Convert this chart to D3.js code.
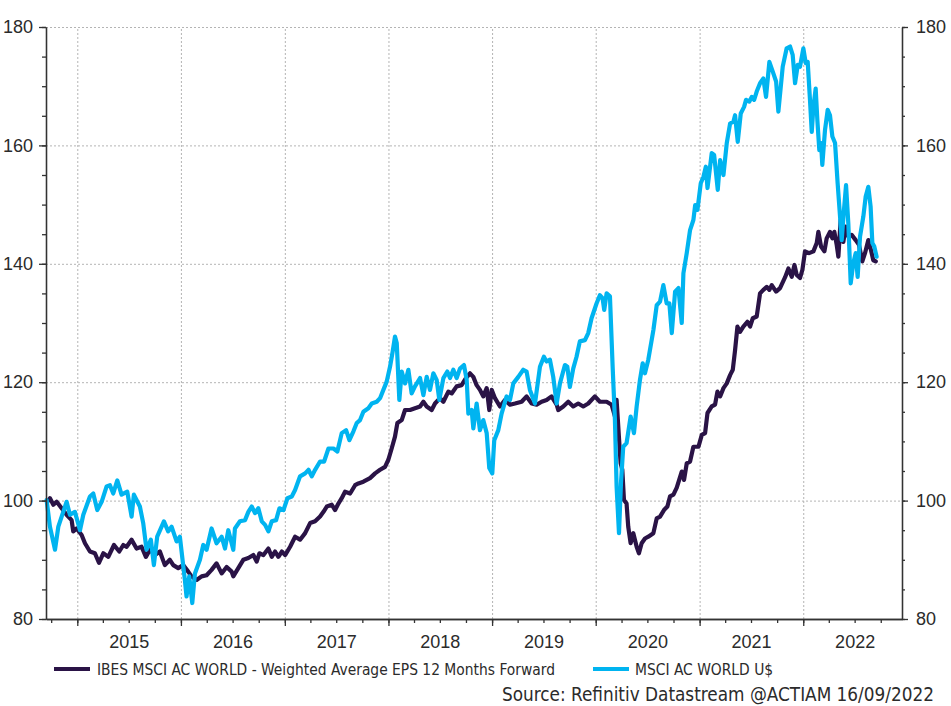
<!DOCTYPE html>
<html>
<head>
<meta charset="utf-8">
<script src="https://cdn.jsdelivr.net/npm/d3@7"></script>
<style>
    html, body { margin: 0; padding: 0; background: #fff; }
    svg { display: block; font-family: "DejaVu Sans Condensed", "DejaVu Sans", sans-serif; font-stretch: condensed; }
    .grid line { stroke: #b4b4b4; stroke-width: 1; stroke-dasharray: 2,2; }
    .grid .domain { display: none; }
    .axis .domain, .axis line { stroke: #333; stroke-width: 1.3; }
    .axis text, .labels text { fill: #2b2b2b; font-size: 18px; }
    .labels .domain, .labels line { display: none; }
</style>
</head>
<body>
<div id="chart"></div>
<script>
// series: [decimal year, value]
const EPS_SERIES = [
    [2014.720, 100.0], [2014.736, 100.4], [2014.769, 99.3], [2014.801, 99.8], [2014.849, 98.7],
    [2014.897, 97.6], [2014.945, 96.7], [2014.961, 94.8], [2014.994, 95.3], [2015.042, 94.2],
    [2015.074, 92.8], [2015.122, 91.4], [2015.170, 91.1], [2015.209, 89.5], [2015.251, 91.1],
    [2015.299, 90.5], [2015.354, 92.5], [2015.405, 91.4], [2015.444, 92.5], [2015.476, 92.2],
    [2015.524, 93.4], [2015.572, 91.9], [2015.620, 92.2], [2015.662, 90.5], [2015.701, 91.7],
    [2015.749, 90.8], [2015.797, 91.4], [2015.845, 89.1], [2015.893, 90.0], [2015.926, 89.1],
    [2015.974, 88.6], [2016.022, 89.1], [2016.070, 88.0], [2016.102, 87.2], [2016.151, 86.6],
    [2016.199, 87.2], [2016.247, 87.4], [2016.295, 88.3], [2016.343, 89.4], [2016.392, 87.7],
    [2016.440, 88.8], [2016.488, 88.0], [2016.504, 87.2], [2016.552, 88.6], [2016.600, 90.0],
    [2016.649, 90.3], [2016.697, 90.8], [2016.729, 89.7], [2016.755, 91.1], [2016.794, 90.8],
    [2016.842, 91.9], [2016.874, 90.5], [2016.906, 91.4], [2016.938, 90.5], [2016.971, 91.4],
    [2017.003, 90.8], [2017.051, 92.2], [2017.099, 93.9], [2017.147, 93.4], [2017.196, 94.5],
    [2017.244, 96.2], [2017.292, 96.5], [2017.340, 97.3], [2017.373, 98.1], [2017.405, 99.0],
    [2017.453, 99.3], [2017.485, 98.4], [2017.517, 99.5], [2017.549, 100.4], [2017.581, 101.5],
    [2017.630, 101.2], [2017.678, 102.6], [2017.710, 102.9], [2017.758, 103.2], [2017.822, 103.8],
    [2017.871, 104.6], [2017.919, 105.2], [2017.967, 105.7], [2017.999, 106.9], [2018.031, 108.8],
    [2018.063, 110.8], [2018.086, 113.1], [2018.128, 113.6], [2018.160, 115.3], [2018.208, 115.3],
    [2018.256, 115.6], [2018.305, 115.9], [2018.337, 116.7], [2018.369, 115.9], [2018.417, 115.3],
    [2018.449, 116.4], [2018.497, 117.3], [2018.530, 116.7], [2018.578, 118.4], [2018.610, 118.1],
    [2018.658, 119.3], [2018.706, 119.5], [2018.748, 120.7], [2018.787, 121.5], [2018.819, 120.9],
    [2018.851, 119.5], [2018.883, 118.7], [2018.915, 117.6], [2018.948, 119.0], [2018.973, 115.3],
    [2018.996, 118.7], [2019.028, 117.3], [2019.076, 115.9], [2019.124, 117.0], [2019.173, 116.2],
    [2019.221, 116.4], [2019.285, 116.7], [2019.333, 117.6], [2019.382, 116.4], [2019.430, 116.2],
    [2019.478, 116.7], [2019.526, 117.0], [2019.574, 117.6], [2019.623, 116.2], [2019.639, 115.3],
    [2019.687, 115.9], [2019.735, 116.7], [2019.783, 115.9], [2019.831, 116.4], [2019.880, 115.9],
    [2019.928, 116.4], [2019.992, 117.6], [2020.040, 116.7], [2020.105, 116.7], [2020.153, 116.2],
    [2020.185, 114.2], [2020.201, 117.0], [2020.227, 109.7], [2020.240, 106.3], [2020.256, 105.2],
    [2020.272, 100.1], [2020.297, 99.5], [2020.313, 95.6], [2020.336, 92.8], [2020.362, 94.5],
    [2020.394, 92.2], [2020.416, 91.1], [2020.442, 92.8], [2020.474, 93.6], [2020.506, 93.9],
    [2020.555, 94.5], [2020.587, 97.0], [2020.619, 97.3], [2020.657, 98.4], [2020.690, 99.0],
    [2020.715, 100.7], [2020.748, 101.0], [2020.780, 102.2], [2020.828, 104.9], [2020.850, 103.5],
    [2020.876, 106.3], [2020.908, 106.6], [2020.940, 109.1], [2020.989, 109.1], [2021.021, 111.1],
    [2021.053, 111.4], [2021.076, 114.8], [2021.117, 115.9], [2021.149, 116.2], [2021.172, 118.4],
    [2021.198, 117.6], [2021.230, 119.0], [2021.262, 119.8], [2021.294, 121.2], [2021.320, 122.1],
    [2021.342, 125.4], [2021.365, 129.4], [2021.390, 128.5], [2021.422, 129.4], [2021.461, 130.2],
    [2021.487, 129.4], [2021.513, 130.8], [2021.551, 131.1], [2021.583, 135.0], [2021.615, 135.6],
    [2021.648, 136.1], [2021.673, 135.6], [2021.696, 136.4], [2021.738, 135.3], [2021.776, 135.9],
    [2021.824, 137.7], [2021.857, 139.2], [2021.889, 137.8], [2021.915, 139.8], [2021.937, 138.1],
    [2021.969, 137.6], [2021.992, 139.0], [2022.017, 142.1], [2022.056, 141.8], [2022.098, 142.1],
    [2022.130, 143.5], [2022.146, 145.4], [2022.172, 142.9], [2022.204, 142.1], [2022.226, 144.3],
    [2022.258, 145.4], [2022.281, 144.3], [2022.300, 145.4], [2022.323, 143.2], [2022.339, 141.2],
    [2022.361, 147.4], [2022.387, 143.7], [2022.409, 146.3], [2022.435, 144.6], [2022.467, 144.9],
    [2022.506, 144.0], [2022.538, 143.2], [2022.570, 140.4], [2022.596, 141.8], [2022.628, 144.0],
    [2022.654, 142.3], [2022.676, 140.6], [2022.700, 140.4]
];

const MSCI_SERIES = [
    [2014.704, 100.1], [2014.736, 95.6], [2014.785, 91.7], [2014.817, 95.6], [2014.849, 97.3],
    [2014.897, 99.8], [2014.929, 97.6], [2014.977, 98.1], [2015.026, 95.0], [2015.058, 97.6],
    [2015.122, 100.7], [2015.154, 101.2], [2015.193, 98.4], [2015.235, 99.8], [2015.283, 102.4],
    [2015.315, 102.6], [2015.347, 101.2], [2015.386, 103.4], [2015.427, 101.0], [2015.482, 101.5],
    [2015.524, 97.3], [2015.546, 101.0], [2015.604, 99.0], [2015.636, 96.2], [2015.668, 91.7],
    [2015.710, 93.4], [2015.739, 89.1], [2015.771, 93.9], [2015.836, 96.5], [2015.877, 94.8],
    [2015.910, 95.6], [2015.958, 93.1], [2015.990, 93.9], [2016.038, 86.6], [2016.054, 83.8],
    [2016.080, 87.2], [2016.109, 82.7], [2016.135, 87.7], [2016.183, 90.0], [2016.215, 92.5],
    [2016.247, 91.7], [2016.295, 95.3], [2016.343, 92.8], [2016.392, 93.9], [2016.424, 91.9],
    [2016.456, 95.0], [2016.504, 91.7], [2016.520, 95.3], [2016.568, 96.5], [2016.617, 96.7],
    [2016.649, 98.1], [2016.681, 99.0], [2016.713, 97.9], [2016.745, 98.7], [2016.778, 96.5],
    [2016.810, 95.9], [2016.842, 94.8], [2016.874, 96.5], [2016.916, 96.7], [2016.948, 98.7],
    [2016.987, 98.4], [2017.025, 100.4], [2017.067, 100.7], [2017.099, 101.8], [2017.147, 104.1],
    [2017.196, 104.6], [2017.228, 105.2], [2017.260, 104.1], [2017.292, 105.2], [2017.340, 106.6],
    [2017.379, 106.6], [2017.421, 108.8], [2017.469, 108.8], [2017.507, 108.3], [2017.549, 111.4],
    [2017.591, 111.9], [2017.623, 110.2], [2017.662, 111.7], [2017.694, 113.1], [2017.726, 113.6],
    [2017.758, 115.0], [2017.806, 115.6], [2017.839, 116.4], [2017.887, 116.7], [2017.919, 117.3],
    [2017.951, 118.7], [2017.983, 120.1], [2018.015, 122.6], [2018.041, 125.2], [2018.063, 127.7],
    [2018.080, 126.6], [2018.105, 117.0], [2018.128, 121.8], [2018.160, 119.8], [2018.192, 122.1],
    [2018.224, 118.1], [2018.256, 119.3], [2018.305, 120.7], [2018.337, 117.8], [2018.369, 120.9],
    [2018.401, 118.7], [2018.433, 121.5], [2018.465, 120.4], [2018.491, 117.0], [2018.530, 120.7],
    [2018.568, 121.8], [2018.594, 120.7], [2018.626, 122.1], [2018.658, 120.7], [2018.690, 122.3],
    [2018.729, 122.9], [2018.755, 120.4], [2018.771, 114.7], [2018.803, 115.3], [2018.819, 112.2],
    [2018.851, 116.4], [2018.883, 111.9], [2018.915, 113.6], [2018.948, 111.4], [2018.973, 105.5],
    [2019.002, 104.6], [2019.021, 110.2], [2019.060, 111.9], [2019.092, 114.7], [2019.140, 117.6],
    [2019.173, 117.0], [2019.205, 119.8], [2019.253, 120.9], [2019.301, 122.1], [2019.333, 121.8],
    [2019.365, 118.7], [2019.414, 116.4], [2019.462, 122.6], [2019.500, 124.3], [2019.526, 123.5],
    [2019.558, 123.8], [2019.590, 120.9], [2019.623, 116.4], [2019.655, 119.8], [2019.703, 122.9],
    [2019.726, 122.6], [2019.751, 119.2], [2019.783, 122.3], [2019.815, 124.3], [2019.847, 126.9],
    [2019.896, 127.1], [2019.928, 128.3], [2019.960, 130.8], [2020.008, 133.3], [2020.040, 134.7],
    [2020.066, 134.2], [2020.082, 132.2], [2020.105, 135.0], [2020.137, 134.5], [2020.163, 122.6],
    [2020.185, 113.6], [2020.201, 102.4], [2020.224, 94.5], [2020.243, 102.9], [2020.265, 109.1],
    [2020.297, 109.7], [2020.336, 114.2], [2020.368, 111.4], [2020.394, 115.9], [2020.426, 120.4],
    [2020.452, 123.2], [2020.474, 121.5], [2020.506, 123.8], [2020.555, 128.8], [2020.587, 133.0],
    [2020.619, 133.6], [2020.651, 136.4], [2020.683, 133.3], [2020.709, 133.3], [2020.732, 128.3],
    [2020.764, 135.3], [2020.796, 135.9], [2020.828, 130.0], [2020.844, 138.4], [2020.876, 141.8],
    [2020.908, 145.7], [2020.940, 147.4], [2020.957, 149.9], [2020.979, 149.1], [2021.011, 153.6],
    [2021.037, 154.7], [2021.060, 156.4], [2021.076, 152.8], [2021.117, 158.7], [2021.140, 158.4],
    [2021.175, 152.5], [2021.198, 157.5], [2021.230, 155.0], [2021.262, 160.4], [2021.294, 163.7],
    [2021.326, 164.0], [2021.342, 165.1], [2021.368, 160.6], [2021.397, 165.4], [2021.429, 166.5],
    [2021.448, 167.7], [2021.480, 167.4], [2021.503, 168.2], [2021.526, 167.7], [2021.551, 169.1],
    [2021.583, 170.5], [2021.615, 171.3], [2021.641, 168.2], [2021.673, 174.1], [2021.705, 172.5],
    [2021.738, 170.8], [2021.760, 165.7], [2021.802, 173.3], [2021.840, 176.4], [2021.873, 176.7],
    [2021.898, 175.3], [2021.921, 170.5], [2021.947, 173.6], [2021.969, 173.3], [2022.001, 176.4],
    [2022.024, 173.9], [2022.043, 174.1], [2022.065, 167.7], [2022.082, 162.3], [2022.098, 166.5],
    [2022.120, 169.6], [2022.136, 164.3], [2022.155, 159.2], [2022.172, 160.4], [2022.184, 156.7],
    [2022.210, 162.6], [2022.236, 166.0], [2022.258, 165.1], [2022.281, 161.5], [2022.307, 160.4],
    [2022.332, 153.6], [2022.355, 148.0], [2022.371, 144.0], [2022.393, 149.1], [2022.413, 153.3],
    [2022.435, 146.8], [2022.458, 136.7], [2022.483, 140.1], [2022.506, 141.8], [2022.525, 137.8],
    [2022.548, 144.6], [2022.580, 148.0], [2022.602, 151.3], [2022.628, 153.0], [2022.650, 149.7],
    [2022.667, 143.5], [2022.686, 142.9], [2022.708, 141.2]
];

const YEARS = [2015, 2016, 2017, 2018, 2019, 2020, 2021, 2022];
const Y_TICKS = [80, 100, 120, 140, 160, 180];
const X_START = 2014.698;
const X_END = 2022.953;

const SERIES = [
    { name: "IBES MSCI AC WORLD - Weighted Average EPS 12 Months Forward", data: EPS_SERIES, color: "#2a1346" },
    { name: "MSCI AC WORLD U$", data: MSCI_SERIES, color: "#00b4f0" }
];
const SOURCE_TEXT = "Source: Refinitiv Datastream @ACTIAM 16/09/2022";

// decimal year -> Date
function toDate(t) {
    const year = Math.floor(t);
    const start = new Date(year, 0, 1);
    const end = new Date(year + 1, 0, 1);
    return new Date(+start + (t - year) * (end - start));
}

const totalWidth = 951, totalHeight = 706;
const margin = { top: 27, right: 49, bottom: 87, left: 46 };
const width = totalWidth - margin.left - margin.right;
const height = totalHeight - margin.top - margin.bottom;

const svgRoot = d3.select("#chart").append("svg")
    .attr("width", totalWidth)
    .attr("height", totalHeight);

const svg = svgRoot.append("g")
    .attr("transform", `translate(${margin.left},${margin.top})`);

const x = d3.scaleTime().domain([toDate(X_START), toDate(X_END)]).range([0, width]);
const y = d3.scaleLinear().domain([80, 180]).range([height, 0]);

const yearStarts = YEARS.map(yr => new Date(yr, 0, 1));
const midYears = YEARS.map(yr => new Date(yr, 6, 1));
const quarters = d3.timeMonth.every(3).range(toDate(X_START), toDate(X_END));
const minorY = d3.range(80, 181, 5);

// gridlines
svg.append("g").attr("class", "grid")
    .call(d3.axisLeft(y).tickValues(Y_TICKS.filter(v => v > 80)).tickSize(-width).tickFormat(""));
svg.append("g").attr("class", "grid")
    .attr("transform", `translate(0,${height})`)
    .call(d3.axisBottom(x).tickValues(yearStarts).tickSize(-height).tickFormat(""));

// lines
const line = d3.line()
    .x(d => x(toDate(d[0])))
    .y(d => y(d[1]));

SERIES.forEach(s => {
    svg.append("path")
        .datum(s.data)
        .attr("fill", "none")
        .attr("stroke", s.color)
        .attr("stroke-width", 4.2)
        .attr("stroke-linejoin", "round")
        .attr("stroke-linecap", "round")
        .attr("d", line);
});

// axes: minor ticks, major ticks, labels
svg.append("g").attr("class", "axis")
    .attr("transform", `translate(0,${height})`)
    .call(d3.axisBottom(x).tickValues(quarters).tickSize(4).tickSizeOuter(0).tickFormat(""));
svg.append("g").attr("class", "axis")
    .attr("transform", `translate(0,${height})`)
    .call(d3.axisBottom(x).tickValues(yearStarts).tickSize(7).tickSizeOuter(0).tickFormat(""));
svg.append("g").attr("class", "labels")
    .attr("transform", `translate(0,${height})`)
    .call(d3.axisBottom(x).tickValues(midYears).tickSize(0).tickPadding(16).tickFormat(d3.timeFormat("%Y")));

svg.append("g").attr("class", "axis")
    .call(d3.axisLeft(y).tickValues(minorY).tickSize(4).tickSizeOuter(0).tickFormat(""));
svg.append("g").attr("class", "axis")
    .call(d3.axisLeft(y).tickValues(Y_TICKS).tickSize(7).tickSizeOuter(0).tickFormat(""));
svg.append("g").attr("class", "labels")
    .call(d3.axisLeft(y).tickValues(Y_TICKS).tickSize(0).tickPadding(13));

svg.append("g").attr("class", "axis")
    .attr("transform", `translate(${width},0)`)
    .call(d3.axisRight(y).tickValues(minorY).tickSize(3).tickSizeOuter(0).tickFormat(""));
svg.append("g").attr("class", "axis")
    .attr("transform", `translate(${width},0)`)
    .call(d3.axisRight(y).tickValues(Y_TICKS).tickSize(6).tickSizeOuter(0).tickFormat(""));
svg.append("g").attr("class", "labels")
    .attr("transform", `translate(${width},0)`)
    .call(d3.axisRight(y).tickValues(Y_TICKS).tickSize(0).tickPadding(14));

// legend
const legendItems = [
    { x: 54, textX: 97 },
    { x: 593, textX: 635 }
];
const legend = svgRoot.append("g").attr("transform", "translate(0,669)");
SERIES.forEach((s, i) => {
    legend.append("line")
        .attr("x1", legendItems[i].x).attr("x2", legendItems[i].x + 36)
        .attr("stroke", s.color).attr("stroke-width", 4);
    legend.append("text")
        .attr("x", legendItems[i].textX).attr("y", 6)
        .attr("fill", "#2b2b2b")
        .style("font-size", "15.4px")
        .text(s.name);
});

svgRoot.append("text")
    .attr("x", 934).attr("y", 701)
    .attr("text-anchor", "end")
    .attr("fill", "#2b2b2b")
    .style("font-size", "18.8px")
    .text(SOURCE_TEXT);
</script>
</body>
</html>
